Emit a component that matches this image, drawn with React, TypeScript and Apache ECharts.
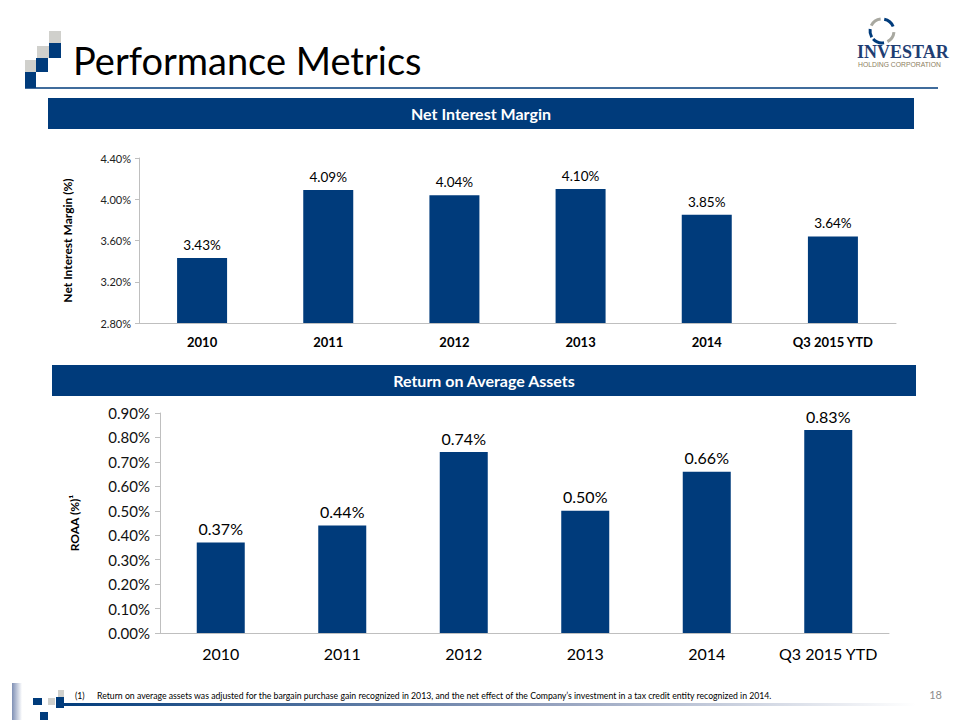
import React, { useEffect, useRef } from "react";
import * as echarts from "echarts";

const categories = ["2010", "2011", "2012", "2013", "2014", "Q3 2015 YTD"];
const nimValues = [3.43, 4.09, 4.04, 4.1, 3.85, 3.64];
const roaaValues = [0.37, 0.44, 0.74, 0.5, 0.66, 0.83];
const nimTicks = { min: 2.8, max: 4.4, interval: 0.4 };
const roaaTicks = { min: 0, max: 0.9, interval: 0.1 };

const BLUE = "#003B7B";
const FONT = "Lato, 'Open Sans', sans-serif";

export default function App() {
  const ref = useRef<HTMLDivElement>(null);
  useEffect(() => {
    document.body.style.margin = "0";
    const chart = echarts.init(ref.current!, null, { renderer: "svg" });
    const pct = (v: number) => v.toFixed(2) + "%";
    const option: any = {
      animation: false,
      backgroundColor: "#ffffff",
      textStyle: { fontFamily: FONT },
      grid: [
        { left: 139, right: 64, top: 158, height: 165 },
        { left: 160, right: 71, top: 413, height: 220 },
      ],
      xAxis: [
        {
          type: "category",
          gridIndex: 0,
          data: categories,
          axisLine: { lineStyle: { color: "#BFBFBF" } },
          axisTick: { show: false },
          axisLabel: { interval: 0, color: "#000", fontWeight: "bold", fontSize: 13, margin: 12, fontFamily: FONT },
        },
        {
          type: "category",
          gridIndex: 1,
          data: categories,
          axisLine: { lineStyle: { color: "#BFBFBF" } },
          axisTick: { show: false },
          axisLabel: { interval: 0, color: "#000", fontSize: 16, margin: 12, fontFamily: FONT },
        },
      ],
      yAxis: [
        {
          type: "value",
          gridIndex: 0,
          ...nimTicks,
          name: "Net Interest Margin (%)",
          nameLocation: "middle",
          nameGap: 66,
          nameTextStyle: { color: "#000", fontWeight: "bold", fontSize: 12, fontFamily: FONT },
          axisLine: { show: true, lineStyle: { color: "#BFBFBF" } },
          axisTick: { show: true, length: 4, lineStyle: { color: "#BFBFBF" } },
          splitLine: { show: false },
          axisLabel: { color: "#222", fontSize: 11, margin: 8, formatter: pct, fontFamily: FONT },
        },
        {
          type: "value",
          gridIndex: 1,
          ...roaaTicks,
          name: "ROAA (%)¹",
          nameLocation: "middle",
          nameGap: 80,
          nameTextStyle: { color: "#000", fontWeight: "bold", fontSize: 12, fontFamily: FONT },
          axisLine: { show: true, lineStyle: { color: "#BFBFBF" } },
          axisTick: { show: true, length: 5, lineStyle: { color: "#BFBFBF" } },
          splitLine: { show: false },
          axisLabel: { color: "#111", fontSize: 15, margin: 10, formatter: pct, fontFamily: FONT },
        },
      ],
      series: [
        {
          type: "bar",
          xAxisIndex: 0,
          yAxisIndex: 0,
          data: nimValues,
          barWidth: 50,
          itemStyle: { color: BLUE },
          label: {
            show: true,
            position: "top",
            distance: 6,
            color: "#000",
            fontSize: 13.5,
            fontFamily: FONT,
            formatter: (p: any) => pct(p.value),
          },
        },
        {
          type: "bar",
          xAxisIndex: 1,
          yAxisIndex: 1,
          data: roaaValues,
          barWidth: 48,
          itemStyle: { color: BLUE },
          label: {
            show: true,
            position: "top",
            distance: 6,
            color: "#000",
            fontSize: 16,
            fontFamily: FONT,
            formatter: (p: any) => pct(p.value),
          },
        },
      ],
      graphic: [
        // top-left squares
        { type: "rect", shape: { x: 49, y: 31, width: 12, height: 12 }, style: { fill: "#D0D0CC" } },
        { type: "rect", shape: { x: 49, y: 43, width: 12, height: 15 }, style: { fill: BLUE } },
        { type: "rect", shape: { x: 37, y: 46, width: 12, height: 12 }, style: { fill: "#D0D0CC" } },
        { type: "rect", shape: { x: 36, y: 58, width: 12, height: 14 }, style: { fill: BLUE } },
        { type: "rect", shape: { x: 25, y: 60, width: 11, height: 12 }, style: { fill: "#D0D0CC" } },
        { type: "rect", shape: { x: 25, y: 72, width: 11, height: 16 }, style: { fill: BLUE } },
        { type: "line", shape: { x1: 25, y1: 88, x2: 938, y2: 88 }, style: { stroke: BLUE, lineWidth: 1.5 } },
        {
          type: "text",
          x: 73,
          y: 60,
          style: { text: "Performance Metrics", fontSize: 38, fontFamily: FONT, fill: "#000", verticalAlign: "middle" },
        },
        // right logo
        { type: "arc", shape: { cx: 882, cy: 31, r: 12, startAngle: 3.6, endAngle: 4.6 }, style: { stroke: "#A8A8A0", lineWidth: 3, fill: "none" } },
        { type: "arc", shape: { cx: 882, cy: 31, r: 12, startAngle: 4.9, endAngle: 5.9 }, style: { stroke: BLUE, lineWidth: 3, fill: "none" } },
        { type: "arc", shape: { cx: 882, cy: 31, r: 12, startAngle: 0.1, endAngle: 1.1 }, style: { stroke: "#A8A8A0", lineWidth: 3, fill: "none" } },
        { type: "arc", shape: { cx: 882, cy: 31, r: 12, startAngle: 1.4, endAngle: 2.4 }, style: { stroke: BLUE, lineWidth: 3, fill: "none" } },
        { type: "arc", shape: { cx: 882, cy: 31, r: 12, startAngle: 2.6, endAngle: 3.3 }, style: { stroke: BLUE, lineWidth: 3, fill: "none" } },
        {
          type: "text",
          x: 857,
          y: 43,
          style: { text: "INVESTAR", fontSize: 18, fontFamily: "'Liberation Serif', serif", fill: "#1F3E73", fontWeight: "bold" },
        },
        {
          type: "text",
          x: 858,
          y: 61,
          style: { text: "HOLDING CORPORATION", fontSize: 6.8, fontFamily: "'Liberation Sans', sans-serif", fill: "#8C7E5E" },
        },
        // header bars
        { type: "rect", shape: { x: 48, y: 98, width: 866, height: 31 }, style: { fill: BLUE } },
        {
          type: "text",
          x: 481,
          y: 113.5,
          style: { text: "Net Interest Margin", fontSize: 16, fontWeight: "bold", fontFamily: FONT, fill: "#fff", align: "center", verticalAlign: "middle" },
        },
        { type: "rect", shape: { x: 52, y: 365, width: 864, height: 31 }, style: { fill: BLUE } },
        {
          type: "text",
          x: 484,
          y: 380.5,
          style: { text: "Return on Average Assets", fontSize: 16, fontWeight: "bold", fontFamily: FONT, fill: "#fff", align: "center", verticalAlign: "middle" },
        },
        // footer
        {
          type: "rect",
          shape: { x: 12, y: 683, width: 10, height: 37 },
          style: {
            fill: new echarts.graphic.LinearGradient(0, 0, 1, 0, [
              { offset: 0, color: "#7F90B5" },
              { offset: 1, color: "#FFFFFF" },
            ]),
          },
        },
        { type: "rect", shape: { x: 33, y: 698, width: 9, height: 7 }, style: { fill: BLUE } },
        { type: "rect", shape: { x: 48, y: 698, width: 7, height: 7 }, style: { fill: "#D0D0CC" } },
        { type: "rect", shape: { x: 58, y: 690, width: 6, height: 7 }, style: { fill: "#D0D0CC" } },
        { type: "rect", shape: { x: 56, y: 697, width: 8, height: 11 }, style: { fill: BLUE } },
        { type: "rect", shape: { x: 40, y: 712, width: 8, height: 8 }, style: { fill: BLUE } },
        {
          type: "rect",
          shape: { x: 56, y: 703, width: 860, height: 3 },
          style: {
            fill: new echarts.graphic.LinearGradient(0, 0, 1, 0, [
              { offset: 0, color: BLUE },
              { offset: 0.55, color: "#8E9CBA" },
              { offset: 1, color: "#FFFFFF" },
            ]),
          },
        },
        {
          type: "text",
          x: 75,
          y: 695,
          style: { text: "(1)", fontSize: 8.7, fontFamily: FONT, fill: "#000", verticalAlign: "middle" },
        },
        {
          type: "text",
          x: 97,
          y: 695,
          style: {
            text: "Return on average assets was adjusted for the bargain purchase gain recognized in 2013, and the net effect of the Company’s investment in a tax credit entity recognized in 2014.",
            fontSize: 8.7,
            fontFamily: FONT,
            fill: "#000",
            verticalAlign: "middle",
          },
        },
        {
          type: "text",
          x: 942,
          y: 694,
          style: { text: "18", fontSize: 11, fontFamily: FONT, fill: "#8C8C8C", align: "right", verticalAlign: "middle" },
        },
      ],
    };
    chart.setOption(option);
    return () => chart.dispose();
  }, []);
  return <div ref={ref} style={{ position: "absolute", left: 0, top: 0, width: 960, height: 720 }} />;
}
